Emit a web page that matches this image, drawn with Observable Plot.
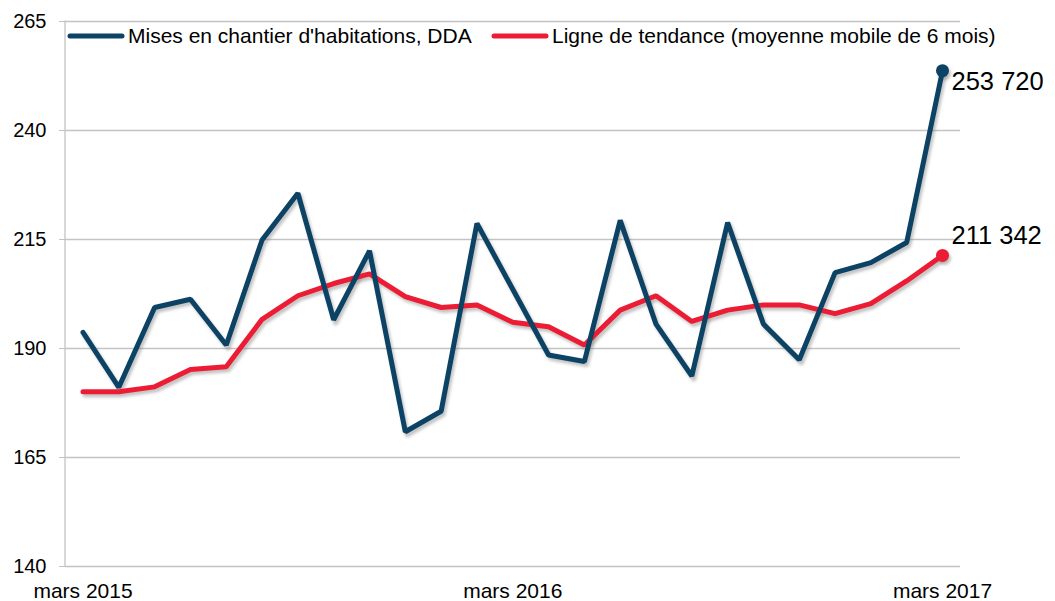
<!DOCTYPE html>
<html>
<head>
<meta charset="utf-8">
<script src="https://cdn.jsdelivr.net/npm/d3@7"></script>
<script src="https://cdn.jsdelivr.net/npm/@observablehq/plot@0.6"></script>
<style>
  body { margin: 0; background: #fff; }
  #chart { position: relative; width: 1055px; height: 601px; }
  svg { font-family: "Liberation Sans", Arial, sans-serif; }
</style>
</head>
<body>
<div id="chart"></div>
<script>
// Months, March 2015 to March 2017 (index 0..24)
const months = ["mars 2015","avr. 2015","mai 2015","juin 2015","juil. 2015","août 2015","sept. 2015","oct. 2015","nov. 2015","déc. 2015","janv. 2016","févr. 2016",
  "mars 2016","avr. 2016","mai 2016","juin 2016","juil. 2016","août 2016","sept. 2016","oct. 2016","nov. 2016","déc. 2016","janv. 2017","févr. 2017","mars 2017"];
// Housing starts, SAAR (thousands)
const starts = [193.7, 181.1, 199.4, 201.3, 190.8, 214.9, 225.6, 196.6, 212.4, 170.9, 175.6, 218.7,
  203.6, 188.5, 187.0, 219.4, 195.6, 183.7, 218.9, 195.6, 187.4, 207.4, 209.7, 214.3, 253.72];
// 6-month moving average (thousands)
const trend = [180.1, 180.1, 181.2, 185.2, 185.8, 196.7, 202.1, 204.9, 207.1, 201.9, 199.4, 200.0,
  196.0, 195.0, 190.8, 198.8, 202.1, 196.2, 198.8, 200.0, 200.0, 198.0, 200.3, 205.5, 211.342];
const yTicks = [140, 165, 190, 215, 240, 265];
const xTicks = [0, 12, 24];
const seriesNames = ["Mises en chantier d'habitations, DDA", "Ligne de tendance (moyenne mobile de 6 mois)"];
const endLabels = ["253 720", "211 342"];

const blue = "#0c4264";
const red = "#ec1c34";
const shadow = "#7a7a7a";

const dStarts = starts.map((v, i) => ({i, v}));
const dTrend = trend.map((v, i) => ({i, v}));
const last = starts.length - 1;

const M = {left: 65, right: 95, top: 21, bottom: 35};

const plot = Plot.plot({
  width: 1055,
  height: 601,
  marginLeft: M.left,
  marginRight: M.right,
  marginTop: M.top,
  marginBottom: M.bottom,
  insetLeft: 17.5,
  insetRight: 18,
  style: {fontFamily: "'Liberation Sans', Arial, sans-serif", fontSize: "20px", background: "#fff"},
  x: {type: "linear", domain: [0, last]},
  y: {domain: [140, 265]},
  marks: [
    Plot.ruleY(yTicks, {stroke: "#c3c3c3", strokeWidth: 1.3}),
    Plot.axisY(yTicks, {tickSize: 6, tickPadding: 13, stroke: "#c3c3c3", fill: "#000", fontSize: 20, label: null}),
    Plot.axisX(xTicks, {tickSize: 0, tickPadding: 17, fill: "#000", fontSize: 21, label: null, tickFormat: i => months[i]}),
    // shadows
    Plot.line(dTrend, {x: "i", y: "v", stroke: shadow, strokeWidth: 5, dx: 2, dy: 3, strokeOpacity: 0.45}),
    Plot.line(dStarts, {x: "i", y: "v", stroke: shadow, strokeWidth: 5, dx: 2, dy: 3, strokeOpacity: 0.45}),
    Plot.dot([dStarts[last], dTrend[last]], {x: "i", y: "v", r: 6.5, fill: shadow, dx: 2, dy: 3, fillOpacity: 0.45}),
    // lines
    Plot.line(dTrend, {x: "i", y: "v", stroke: red, strokeWidth: 5, strokeLinejoin: "miter"}),
    Plot.line(dStarts, {x: "i", y: "v", stroke: blue, strokeWidth: 5, strokeLinejoin: "miter"}),
    Plot.dot([dStarts[last]], {x: "i", y: "v", r: 6.5, fill: blue}),
    Plot.dot([dTrend[last]], {x: "i", y: "v", r: 6.5, fill: red}),
    Plot.text([dStarts[last]], {x: "i", y: "v", text: () => endLabels[0], textAnchor: "start", dx: 9, dy: 11, fontSize: 25.5, fill: "#000"}),
    Plot.text([dTrend[last]], {x: "i", y: "v", text: () => endLabels[1], textAnchor: "start", dx: 9, dy: -20, fontSize: 25.5, fill: "#000"})
  ]
});

const svg = d3.select(plot);
// blur the shadow marks
const defs = svg.insert("defs", ":first-child");
defs.append("filter").attr("id", "shadowBlur").attr("x", "-10%").attr("y", "-10%").attr("width", "120%").attr("height", "120%")
  .append("feGaussianBlur").attr("stdDeviation", 1.6);
svg.selectAll(`[stroke="${shadow}"], [fill="${shadow}"]`).attr("filter", "url(#shadowBlur)");

// left axis line (frame edge)
svg.insert("line", "g[aria-label='y-axis tick']")
  .attr("x1", M.left).attr("x2", M.left).attr("y1", M.top - 0.5).attr("y2", 601 - M.bottom + 0.5)
  .attr("stroke", "#c3c3c3").attr("stroke-width", 1.3);

// legend inside the plot area
const lg = svg.append("g").attr("font-size", 21).attr("fill", "#000").attr("text-anchor", "start");
const legendItems = [{x: 70, color: blue, name: seriesNames[0]}, {x: 494, color: red, name: seriesNames[1]}];
for (const it of legendItems) {
  lg.append("line").attr("x1", it.x).attr("x2", it.x + 52).attr("y1", 36).attr("y2", 36)
    .attr("stroke", it.color).attr("stroke-width", 5).attr("stroke-linecap", "round");
  lg.append("text").attr("x", it.x + 58).attr("y", 36).attr("dy", "0.35em").text(it.name);
}

document.getElementById("chart").appendChild(plot);
</script>
</body>
</html>
